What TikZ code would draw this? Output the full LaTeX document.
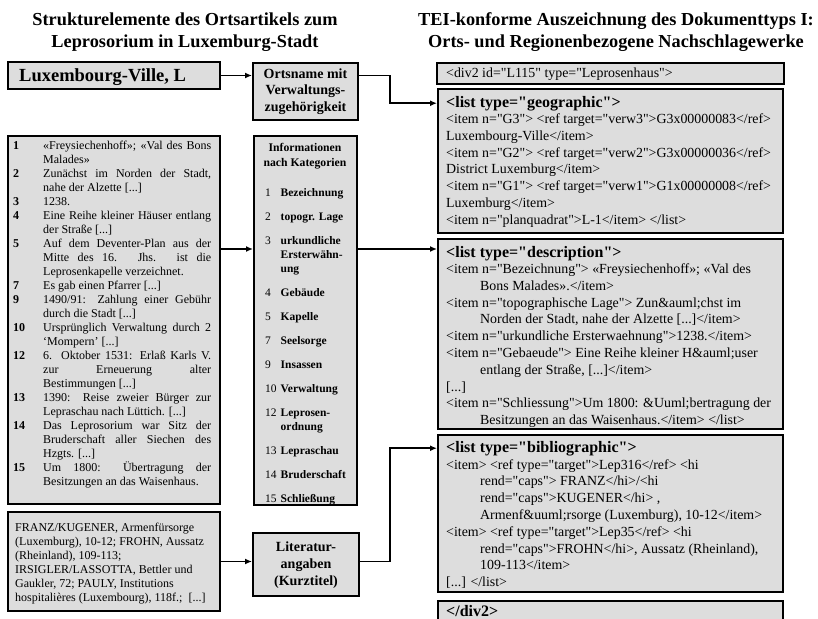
\documentclass[tikz,border=0pt]{standalone}
\usepackage{fontspec}
\setmainfont{Liberation Serif}[Ligatures=TeXOff]
\usepackage{xcolor}
\usepackage{tikz}
\usetikzlibrary{positioning, arrows.meta}
\definecolor{boxfill}{RGB}{221,221,221}
\newcommand{\txtlines}[1]{\begin{tabular}[t]{@{}l@{}}#1\end{tabular}}
\newcommand{\ctrlines}[1]{\begin{tabular}[t]{@{}c@{}}#1\end{tabular}}
\newcommand{\xmlindent}{\hspace*{34pt}}
\hbadness=10000

\begin{document}
\begin{tikzpicture}[x=1pt, y=-1pt,
    box/.style={draw, line width=2.4pt, fill=boxfill, inner sep=0pt, anchor=north west},
    txt/.style={inner sep=0pt, anchor=base west},
    ctr/.style={inner sep=0pt, anchor=base},
    heading/.style={ctr, font=\fontsize{18.3}{22.5}\selectfont\bfseries},
    xml/.style={txt, font=\fontsize{13.9}{16.8}\selectfont},
    xmlhead/.style={txt, font=\fontsize{16}{19}\selectfont\bfseries},
    link/.style={line width=1.8pt, -{Latex[length=7pt,width=6pt]}}]
    \useasboundingbox (0,0) rectangle (818,618);

    \node[heading] (lefthead) at (185,25.5) {\ctrlines{Strukturelemente des Ortsartikels zum\\Leprosorium in Luxemburg-Stadt}};
    \node[heading] (righthead) at (616,25.5) {\ctrlines{TEI-konforme Auszeichnung des Dokumenttyps I:\\Orts- und Regionenbezogene Nachschlagewerke}};

    \node[box, minimum width=211.6pt, minimum height=26.6pt] (lux) at (7,61) {};
    \node[box, minimum width=104.6pt, minimum height=56.6pt] (ort) at (252,62) {};
    \node[box, minimum width=211.6pt, minimum height=367.6pt] (list) at (7,135) {};
    \node[box, minimum width=102.6pt, minimum height=368.6pt] (info) at (253,135) {};
    \node[box, minimum width=211.6pt, minimum height=98.6pt] (lit) at (7,511) {};
    \node[box, minimum width=105.6pt, minimum height=62.6pt] (litlab) at (252,532) {};
    \node[box, minimum width=346.6pt, minimum height=20.6pt] (divopen) at (436,62) {};
    \node[box, minimum width=344.6pt, minimum height=143.6pt] (geo) at (437,88) {};
    \node[box, minimum width=344.6pt, minimum height=189.6pt] (desc) at (437,238) {};
    \node[box, minimum width=344.6pt, minimum height=156.6pt] (bib) at (437,434) {};
    \node[box, minimum width=344.6pt, minimum height=40pt] (divclose) at (437,600) {};

    \node[txt, font=\fontsize{18.5}{21}\selectfont\bfseries] (luxname) at (19,81) {Luxembourg-Ville, L};
    \node[ctr, font=\fontsize{14}{16.5}\selectfont\bfseries] (ortname) at (305.5,78) {\ctrlines{Ortsname mit\\Verwaltungs-\\zugehörigkeit}};

    \node[txt, font=\fontsize{12}{14}\selectfont] (items) at (13,149.5) {%
      \begin{tabular}[t]{@{}p{30pt}@{}p{168pt}@{}}
      \textbf{1} & «Freysiechenhoff»; «Val des Bons\linebreak Malades»\\
      \textbf{2} & Zunächst im Norden der Stadt,\linebreak nahe der Alzette [...]\\
      \textbf{3} & 1238.\\
      \textbf{4} & Eine Reihe kleiner Häuser entlang\linebreak der Straße [...]\\
      \textbf{5} & Auf dem Deventer-Plan aus der\linebreak Mitte des 16. Jhs. ist die\linebreak Leprosenkapelle verzeichnet.\\
      \textbf{7} & Es gab einen Pfarrer [...]\\
      \textbf{9} & 1490/91: Zahlung einer Gebühr\linebreak durch die Stadt [...]\\
      \textbf{10} & Ursprünglich Verwaltung durch 2\linebreak ‘Mompern’ [...]\\
      \textbf{12} & 6. Oktober 1531: Erlaß Karls V.\linebreak zur Erneuerung alter\linebreak Bestimmungen [...]\\
      \textbf{13} & 1390: Reise zweier Bürger zur\linebreak Lepraschau nach Lüttich. [...]\\
      \textbf{14} & Das Leprosorium war Sitz der\linebreak Bruderschaft aller Siechen des\linebreak Hzgts. [...]\\
      \textbf{15} & Um 1800: Übertragung der\linebreak Besitzungen an das Waisenhaus.
      \end{tabular}};

    \node[ctr, font=\fontsize{11.7}{15}\selectfont\bfseries] (infohead) at (305,151) {\ctrlines{Informationen\\nach Kategorien}};
    \node[txt, font=\fontsize{11.5}{14}\selectfont] (categories) at (265,196) {%
      \begin{tabular}[t]{@{}l@{\hspace{4pt}}l@{}}
      1 & \textbf{Bezeichnung}\\[10pt]
      2 & \textbf{topogr. Lage}\\[10pt]
      3 & \textbf{urkundliche}\\ & \textbf{Ersterwähn-}\\ & \textbf{ung}\\[10pt]
      4 & \textbf{Gebäude}\\[10pt]
      5 & \textbf{Kapelle}\\[10pt]
      7 & \textbf{Seelsorge}\\[10pt]
      9 & \textbf{Insassen}\\[10pt]
      10 & \textbf{Verwaltung}\\[10pt]
      12 & \textbf{Leprosen-}\\ & \textbf{ordnung}\\[10pt]
      13 & \textbf{Lepraschau}\\[10pt]
      14 & \textbf{Bruderschaft}\\[10pt]
      15 & \textbf{Schließung}
      \end{tabular}};

    \node[txt, font=\fontsize{12}{14}\selectfont] (littext) at (15,531) {\txtlines{FRANZ/KUGENER, Armenfürsorge\\(Luxemburg), 10-12; FROHN, Aussatz\\(Rheinland), 109-113;\\IRSIGLER/LASSOTTA, Bettler und\\Gaukler, 72; PAULY, Institutions\\hospitalières (Luxembourg), 118f.;\ \ [...]}};
    \node[ctr, font=\fontsize{14}{17}\selectfont\bfseries] (litname) at (306,551) {\ctrlines{Literatur-\\angaben\\(Kurztitel)}};

    \node[xml] (divopentext) at (446,77) {<div2 id="L115" type="Leprosenhaus">};
    \node[xmlhead] (geohead) at (446,107) {<list type="geographic">};
    \node[xml] (geobody) at (446,123.5) {\txtlines{<item n="G3"> <ref target="verw3">G3x00000083</ref>\\
      Luxembourg-Ville</item>\\
      <item n="G2"> <ref target="verw2">G3x00000036</ref>\\
      District Luxemburg</item>\\
      <item n="G1"> <ref target="verw1">G1x00000008</ref>\\
      Luxemburg</item>\\
      <item n="planquadrat">L-1</item> </list>}};
    \node[xmlhead] (deschead) at (446,257) {<list type="description">};
    \node[xml] (descbody) at (446,273.5) {\txtlines{<item n="Bezeichnung"> «Freysiechenhoff»; «Val des\\
      \xmlindent Bons Malades».</item>\\
      <item n="topographische Lage"> Zun\&auml;chst im\\
      \xmlindent Norden der Stadt, nahe der Alzette [...]</item>\\
      <item n="urkundliche Ersterwaehnung">1238.</item>\\
      <item n="Gebaeude"> Eine Reihe kleiner H\&auml;user\\
      \xmlindent entlang der Straße, [...]</item>\\
      {[...]}\\
      <item n="Schliessung">Um 1800: \&Uuml;bertragung der\\
      \xmlindent Besitzungen an das Waisenhaus.</item> </list>}};
    \node[xmlhead] (bibhead) at (446,452) {<list type="bibliographic">};
    \node[xml] (bibbody) at (446,469) {\txtlines{<item> <ref type="target">Lep316</ref> <hi\\
      \xmlindent rend="caps"> FRANZ</hi>/<hi\\
      \xmlindent rend="caps">KUGENER</hi> ,\\
      \xmlindent Armenf\&uuml;rsorge (Luxemburg), 10-12</item>\\
      <item> <ref type="target">Lep35</ref> <hi\\
      \xmlindent rend="caps">FROHN</hi>, Aussatz (Rheinland),\\
      \xmlindent 109-113</item>\\
      {[...]} </list>}};
    \node[xmlhead] (divclosetext) at (446,616) {</div2>};

    \coordinate (turn) at (390,0);
    \coordinate (row) at (0,249);
    \draw[link] (lux.east) -- (lux.east -| ort.west);
    \draw[link] (ort.east |- lux.east) -- (turn |- lux.east) |- (geo.west |- geohead);
    \draw[link] (list.east |- row) -- (info.west |- row);
    \draw[link] (info.east |- row) -- (desc.west |- row);
    \draw[link] (lit.east) -- (lit.east -| litlab.west);
    \draw[link] (litlab.east |- lit.east) -- (turn |- lit.east) |- (bib.west |- bibhead);
\end{tikzpicture}
\end{document}
